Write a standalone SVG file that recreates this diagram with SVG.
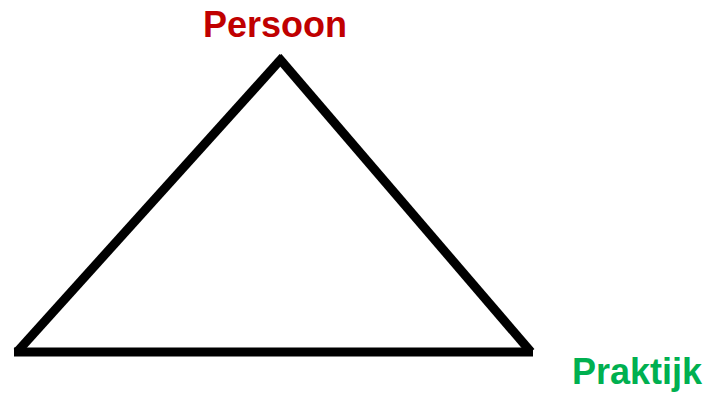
<svg xmlns="http://www.w3.org/2000/svg" width="707" height="394" viewBox="0 0 707 394">
<style>
.edge{stroke:#000;stroke-width:9;fill:none;stroke-linecap:butt}
.lbl{font-family:"Liberation Sans",Arial,sans-serif;font-weight:bold;font-size:36px}
</style>
<rect width="707" height="394" fill="#fff"/>
<g id="connectors">
<line class="edge" x1="283" y1="57" x2="17" y2="352"/>
<line class="edge" x1="278" y1="57" x2="531" y2="352"/>
<line class="edge" x1="14" y1="352" x2="533" y2="352"/>
</g>
<g id="persoon"><text class="lbl" x="203" y="37" fill="#c00000">Persoon</text></g>
<g id="praktijk"><text class="lbl" x="572" y="384" fill="#00b050">Praktijk</text></g>
</svg>
